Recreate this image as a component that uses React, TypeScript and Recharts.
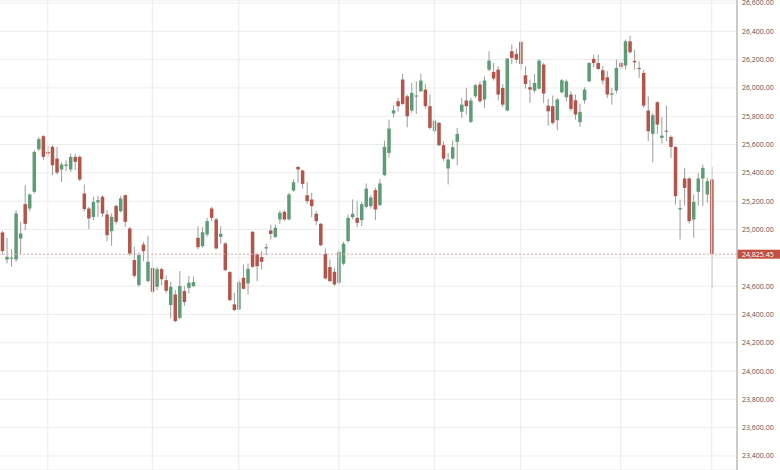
import { ComposedChart, Bar, XAxis, YAxis, CartesianGrid, ReferenceLine } from 'recharts';

// daily sessions, oldest first
const opens = [
  24979, 24788, 24796, 24788, 24936, 25179, 25148, 25266, 25567, 25659,
  25548, 25584, 25501, 25424, 25449, 25424, 25513, 25513, 25254, 25148,
  25089, 25191, 25231, 25106, 24988, 25167, 25129, 25242, 25007, 24784,
  24607, 24894, 24635, 24729, 24595, 24720, 24642, 24466, 24541, 24376,
  24565, 24588, 24600, 24941, 24882, 24965, 25148, 25071, 24948, 24901,
  24699, 24471, 24435, 24659, 24619, 24984, 24824, 24805, 24866, 24993,
  24946, 25071, 25125, 25071, 25275, 25442, 25416, 25242, 25212, 25111,
  25040, 24828, 24734, 24701, 24624, 24758, 24918, 25087, 25082, 25066,
  25160, 25165, 25278, 25172, 25384, 25541, 25819, 25906, 26059, 25941,
  25840, 25939, 25976, 25988, 25871, 25694, 25753, 25595, 25431, 25501,
  25619, 25831, 25911, 25760, 25941, 26024, 25918, 26129, 26113, 26129,
  26000, 25840, 26259, 26240, 26325, 26089, 26005, 25981, 25995, 26165,
  25875, 25871, 25772, 25969, 25934, 25953, 25913, 25758, 25913, 26047,
  26205, 26176, 26125, 26075, 25953, 25981, 26176, 26158, 26329, 26191,
  26141, 26106, 25840, 25675, 25899, 25647, 25698, 25654, 25583, 25141,
  25360, 25360, 25071, 25266, 25360, 25247, 25353,
];
const highs = [
  24990, 24941, 24861, 25136, 25054, 25313, 25254, 25560, 25654, 25666,
  25591, 25595, 25584, 25473, 25489, 25536, 25536, 25525, 25318, 25160,
  25231, 25238, 25242, 25136, 25113, 25176, 25238, 25247, 25019, 24878,
  24838, 24913, 24955, 24784, 24736, 24729, 24673, 24630, 24572, 24706,
  24600, 24671, 24668, 25023, 25019, 25082, 25160, 25082, 25023, 24911,
  24706, 24553, 24647, 24753, 24760, 24988, 24831, 24847, 24899, 25035,
  25035, 25134, 25134, 25259, 25353, 25447, 25424, 25336, 25259, 25129,
  25047, 24866, 24788, 24729, 24859, 24913, 25106, 25212, 25200, 25195,
  25325, 25242, 25296, 25355, 25626, 25776, 25878, 25929, 26099, 25953,
  26035, 26047, 26099, 26028, 25953, 25783, 25760, 25623, 25541, 25628,
  25718, 25929, 26000, 25929, 26028, 26047, 26082, 26259, 26176, 26153,
  26028, 26212, 26306, 26278, 26329, 26153, 26059, 26099, 26200, 26176,
  25922, 25946, 25929, 26064, 26059, 25976, 25953, 25889, 26005, 26181,
  26235, 26235, 26153, 26118, 26000, 26200, 26188, 26341, 26369, 26271,
  26188, 26129, 25941, 25824, 25906, 25795, 25875, 25664, 25588, 25212,
  25435, 25369, 25247, 25400, 25459, 25365, 25442,
];
const lows = [
  24823, 24760, 24736, 24772, 24823, 24995, 25129, 25254, 25553, 25489,
  25513, 25383, 25388, 25336, 25412, 25407, 25419, 25341, 25129, 25002,
  25066, 25089, 25089, 24918, 24885, 25035, 25120, 25019, 24814, 24659,
  24595, 24776, 24626, 24536, 24572, 24607, 24548, 24372, 24344, 24365,
  24459, 24548, 24593, 24859, 24871, 24948, 25059, 24859, 24899, 24706,
  24494, 24424, 24431, 24576, 24541, 24729, 24635, 24718, 24819, 24929,
  24941, 25040, 25059, 25064, 25266, 25329, 25289, 25181, 25087, 25031,
  24882, 24647, 24631, 24600, 24612, 24748, 24906, 25071, 25016, 25024,
  25148, 25148, 25066, 25165, 25376, 25508, 25791, 25831, 25878, 25722,
  25824, 25816, 25972, 25854, 25706, 25675, 25588, 25482, 25318, 25494,
  25454, 25788, 25812, 25753, 25929, 25894, 25859, 26118, 26052, 25911,
  25864, 25835, 26169, 26176, 26129, 25995, 25894, 25965, 25988, 25894,
  25734, 25741, 25701, 25960, 25906, 25835, 25776, 25725, 25889, 26040,
  26148, 26125, 26024, 25929, 25882, 25960, 26134, 26129, 26242, 26129,
  26071, 25859, 25624, 25475, 25675, 25607, 25624, 25506, 25176, 24929,
  25169, 25042, 24941, 25169, 25165, 25188, 24588,
];
const closes = [
  24847, 24807, 24800, 25113, 24972, 25040, 25247, 25548, 25638, 25513,
  25537, 25454, 25402, 25459, 25459, 25513, 25478, 25353, 25144, 25078,
  25195, 25207, 25113, 24960, 25089, 25054, 25219, 25054, 24830, 24673,
  24819, 24847, 24772, 24560, 24720, 24649, 24567, 24595, 24353, 24600,
  24487, 24624, 24628, 24875, 24981, 25059, 25082, 24866, 24969, 24713,
  24501, 24431, 24628, 24581, 24722, 24736, 24741, 24772, 24875, 24969,
  25012, 25118, 25071, 25247, 25334, 25424, 25322, 25200, 25165, 25059,
  24889, 24654, 24635, 24612, 24842, 24899, 25082, 25111, 25047, 25179,
  25289, 25226, 25141, 25325, 25584, 25713, 25842, 25871, 25887, 25800,
  25965, 25946, 26052, 25871, 25718, 25769, 25595, 25501, 25494, 25581,
  25675, 25882, 25871, 25911, 26019, 25906, 26052, 26193, 26066, 25953,
  25882, 26207, 26212, 26200, 26169, 26028, 25988, 26035, 26193, 25960,
  25835, 25753, 25918, 26054, 26047, 25852, 25812, 25831, 25988, 26176,
  26176, 26134, 26052, 25953, 25962, 26141, 26148, 26329, 26252, 26181,
  26138, 25875, 25694, 25807, 25741, 25663, 25694, 25583, 25235, 25151,
  25294, 25059, 25195, 25360, 25435, 25341, 24825.45,
];

// first session of each month (grid lines)
const monthStarts = [10, 33, 52, 74, 95, 114, 136, 156];
const priceTicks = [
  23400, 23600, 23800, 24000, 24200, 24400, 24600, 24800,
  25000, 25200, 25400, 25600, 25800, 26000, 26200, 26400, 26600,
];
// tick label hidden under the last-price tag
const hiddenTick = 24800;
const lastPrice = closes[closes.length - 1];

const UP = '#5e9c78';
const DOWN = '#b5544a';
const WICK = '#9c9c9c';
const FONT = '"Open Sans", Roboto, sans-serif';

const data = opens.map((o, i) => ({
  day: i,
  open: o,
  high: highs[i],
  low: lows[i],
  close: closes[i],
  range: [lows[i], highs[i]],
}));

const fmt = (v: number) =>
  v.toLocaleString('en-US', { minimumFractionDigits: 2, maximumFractionDigits: 2 });

function Candle(props: any) {
  const { x, y, width, height, payload } = props;
  if (!payload || height == null) return null;
  const { open, high, low, close } = payload;
  const yHi = Math.min(y, y + height);
  const yLo = Math.max(y, y + height);
  const per = (yLo - yHi) / (high - low || 1);
  const cx = x + width / 2;
  const yOpen = yHi + (high - open) * per;
  const yClose = yHi + (high - close) * per;
  const top = Math.min(yOpen, yClose);
  const h = Math.max(Math.abs(yClose - yOpen), 1);
  return (
    <g>
      <line x1={cx} x2={cx} y1={yHi} y2={yLo} stroke={WICK} strokeWidth={1} />
      <rect x={cx - 1.75} y={top} width={3.5} height={h} fill={close >= open ? UP : DOWN} />
    </g>
  );
}

// red tag with last price on the axis
function PriceTag(props: any) {
  const vb = props.viewBox;
  if (!vb) return null;
  const left = vb.x + vb.width;
  return (
    <g>
      <rect x={left} y={vb.y - 4.5} width={43} height={9} fill="#c4513f" />
      <text x={left + 5} y={vb.y + 2.5} fill="#fff" fontSize={7} fontFamily={FONT}>
        {fmt(lastPrice)}
      </text>
    </g>
  );
}

export default function App() {
  return (
    <div style={{ position: 'absolute', left: 0, top: 0, width: 780, height: 470, background: '#fff', overflow: 'hidden' }}>
      <ComposedChart width={780} height={470} data={data} margin={{ top: 0, right: 0, bottom: 0, left: 0 }}>
        <CartesianGrid vertical={false} stroke="#ececec" />
        {monthStarts.map(i => (
          <ReferenceLine key={i} x={i} stroke="#ebebeb" />
        ))}
        <XAxis dataKey="day" type="category" hide padding={{ left: 0, right: 23 }} />
        <YAxis
          orientation="right"
          width={43}
          domain={[23301, 26621]}
          allowDataOverflow
          ticks={priceTicks}
          interval={0}
          tickFormatter={(v: number) => (v === hiddenTick ? '' : fmt(v))}
          tickLine={false}
          tickSize={3}
          axisLine={{ stroke: '#b8b8b8', strokeWidth: 1.5 }}
          tick={{ fill: '#555', fontSize: 7, fontFamily: FONT }}
        />
        <ReferenceLine
          y={lastPrice}
          stroke="#e2aaa2"
          strokeDasharray="2 2"
          label={<PriceTag />}
        />
        <Bar dataKey="range" shape={<Candle />} isAnimationActive={false} />
      </ComposedChart>
    </div>
  );
}
